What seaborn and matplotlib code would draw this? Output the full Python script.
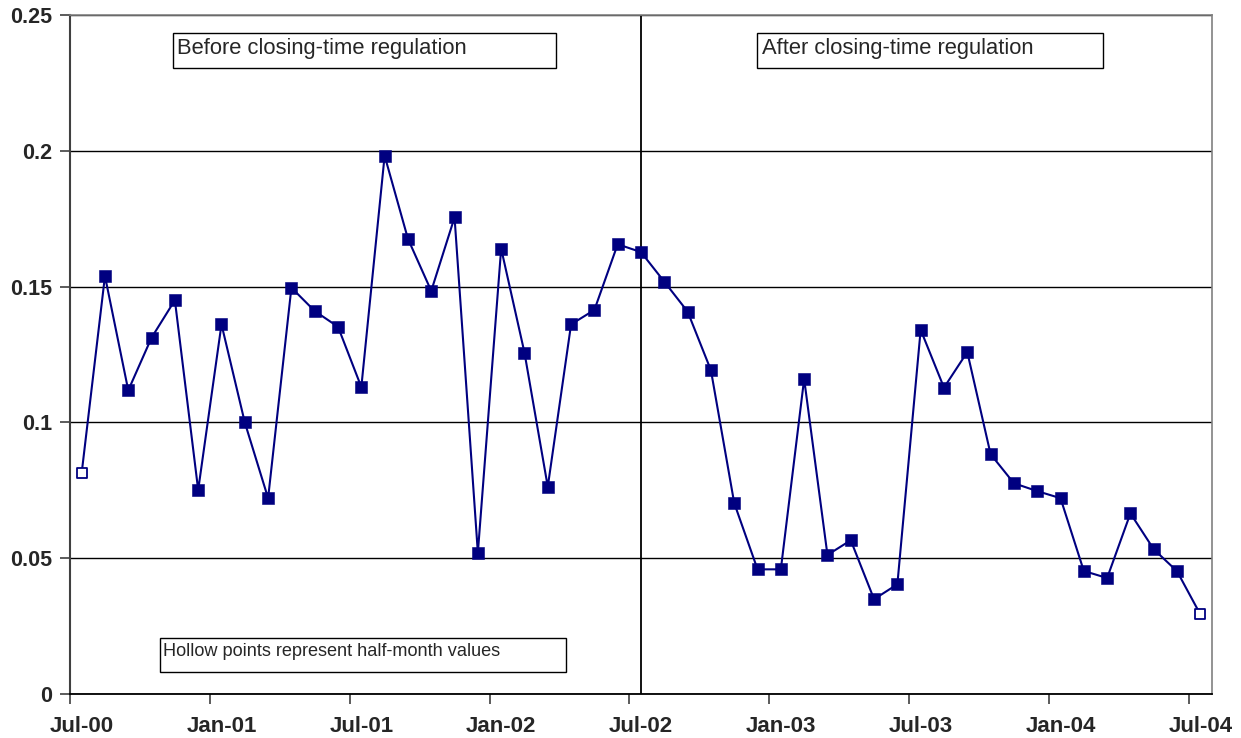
import numpy as np
import pandas as pd
import matplotlib
matplotlib.use("Agg")
import matplotlib.pyplot as plt
import seaborn as sns
from matplotlib.patches import Rectangle

# ---- data ----
tick_labels = ["Jul-00", "Jan-01", "Jul-01", "Jan-02", "Jul-02",
               "Jan-03", "Jul-03", "Jan-04", "Jul-04"]
y_ticks = [0, 0.05, 0.1, 0.15, 0.2, 0.25]
y_tick_labels = ["0", "0.05", "0.1", "0.15", "0.2", "0.25"]

values = [0.0813, 0.1539, 0.1118, 0.1312, 0.1450, 0.0751, 0.1361, 0.1000,
          0.0721, 0.1496, 0.1410, 0.1352, 0.1130, 0.1982, 0.1676, 0.1484,
          0.1755, 0.0520, 0.1640, 0.1257, 0.0763, 0.1361, 0.1414, 0.1656,
          0.1627, 0.1518, 0.1408, 0.1192, 0.0703, 0.0459, 0.0459, 0.1160,
          0.0512, 0.0566, 0.0349, 0.0404, 0.1341, 0.1128, 0.1259, 0.0883,
          0.0776, 0.0747, 0.0721, 0.0453, 0.0427, 0.0665, 0.0533, 0.0452,
          0.0293]
hollow = [True] + [False] * 47 + [True]

annot_before = "Before closing-time regulation"
annot_after = "After closing-time regulation"
annot_note = "Hollow points represent half-month values"

# ---- style ----
sns.set_style("ticks")
plt.rcParams['font.family'] = ['Liberation Sans', 'DejaVu Sans']

W, H = 1241, 738
fig = plt.figure(figsize=(W / 100, H / 100), dpi=100)
ax = fig.add_axes([70 / W, 1 - 694 / H, (1212 - 70) / W, (694 - 15) / H])

navy = "#000080"
df = pd.DataFrame({"month": np.arange(len(values)) + 0.5,
                   "value": values,
                   "hollow": hollow})

sns.lineplot(data=df, x="month", y="value", color=navy, lw=1.5, ax=ax,
             zorder=3)
sns.scatterplot(data=df[~df["hollow"]], x="month", y="value", marker="s",
                s=64, color=navy, edgecolor=navy, linewidth=0.4, ax=ax,
                zorder=4)
sns.scatterplot(data=df[df["hollow"]], x="month", y="value", marker="s",
                s=42, color="white", edgecolor=navy, linewidth=1.3, ax=ax,
                zorder=4)

# divider at the regulation date (mid-July 2002)
ax.axvline(24.5, color="black", lw=1.3, zorder=2)

ax.set_xlim(0, 49)
ax.set_ylim(0, 0.25)

major_x = np.arange(0, 49, 6)
ax.set_xticks(major_x)
ax.set_xticklabels([""] * len(major_x))
ax.set_xticks(major_x + 0.5, minor=True)
ax.set_xticklabels(tick_labels, minor=True, fontsize=16, fontweight="bold")
ax.tick_params(axis="x", which="major", length=7, width=1.2,
               color="#404040", direction="out")
ax.tick_params(axis="x", which="minor", length=0, pad=16)

ax.set_yticks(y_ticks)
ax.set_yticklabels(y_tick_labels, fontsize=15.5, fontweight="bold")
ax.tick_params(axis="y", length=7, width=1.2, color="#404040", pad=6)

ax.yaxis.grid(True, color="black", lw=1.0)
ax.xaxis.grid(False)
ax.set_axisbelow(True)
ax.set_xlabel("")
ax.set_ylabel("")

for side in ["top", "right"]:
    ax.spines[side].set_color("#808080")
    ax.spines[side].set_linewidth(1.2)
ax.spines["left"].set_color("#404040")
ax.spines["left"].set_linewidth(1.5)
ax.spines["bottom"].set_color("black")
ax.spines["bottom"].set_linewidth(1.3)


def box(x0, y0, x1, y1):
    fig.add_artist(Rectangle((x0 / W, 1 - y1 / H), (x1 - x0) / W,
                             (y1 - y0) / H, transform=fig.transFigure,
                             fill=True, facecolor="white", edgecolor="black",
                             lw=1.0, zorder=5))


box(173, 33, 556, 68)
fig.text(177 / W, 1 - 54 / H, annot_before, fontsize=15.8, va="baseline",
         ha="left", zorder=6)
box(757, 33, 1103, 68)
fig.text(762 / W, 1 - 54 / H, annot_after, fontsize=15.8, va="baseline",
         ha="left", zorder=6)
box(160, 638, 566, 672)
fig.text(163 / W, 1 - 656.5 / H, annot_note, fontsize=13.1, va="baseline",
         ha="left", zorder=6)

fig.savefig("out.png", dpi=100)
